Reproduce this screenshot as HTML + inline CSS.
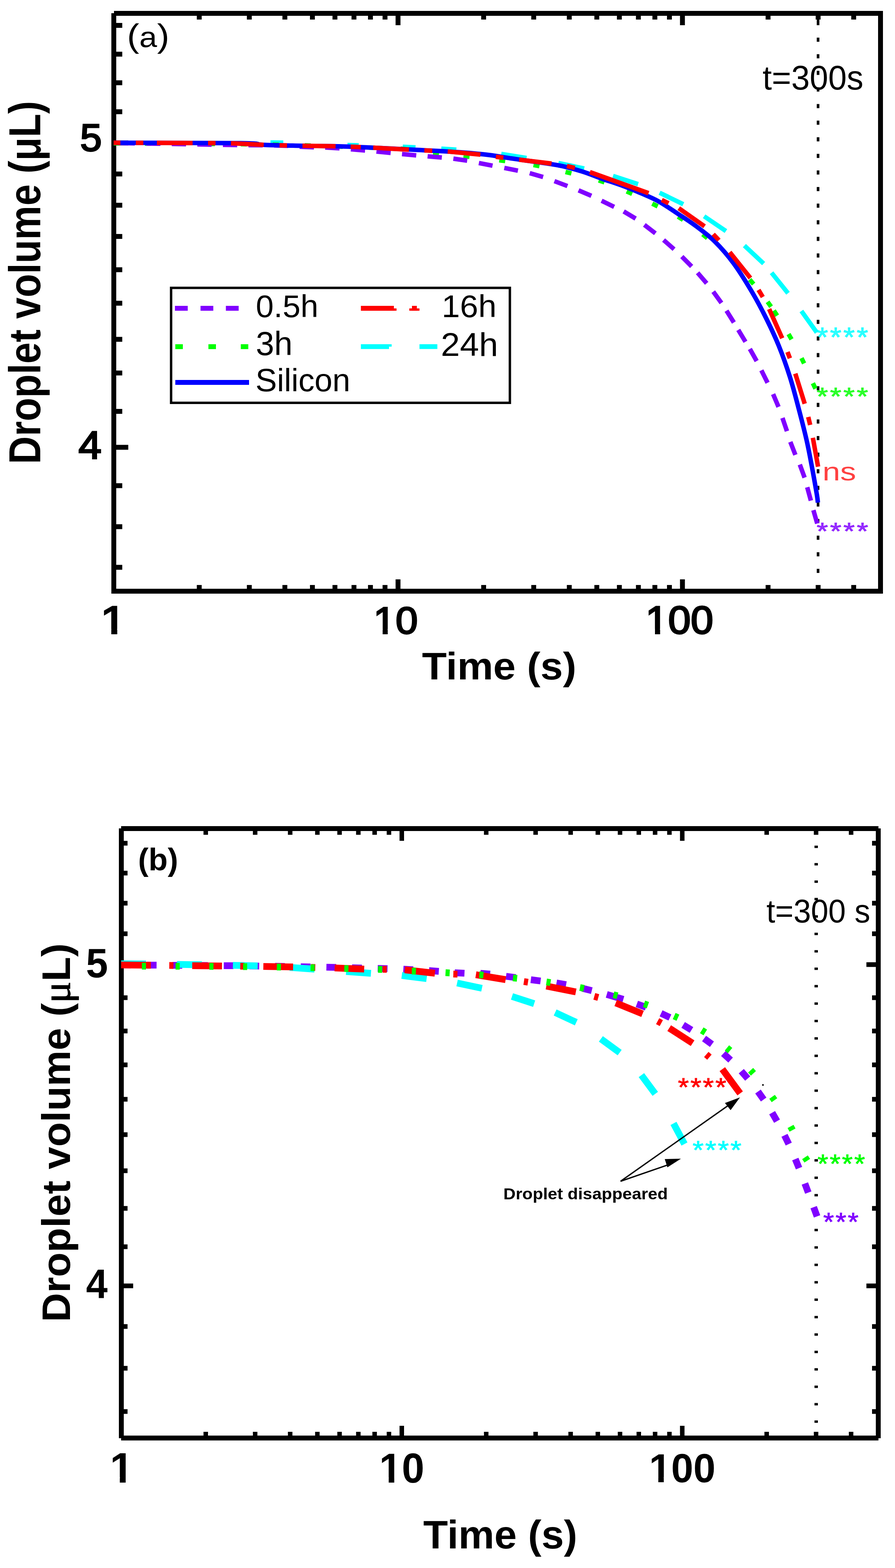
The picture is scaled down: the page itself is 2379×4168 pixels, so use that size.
<!DOCTYPE html>
<html><head><meta charset="utf-8"><style>
html,body{margin:0;padding:0;background:#fff;}
svg{display:block;}
</style></head><body>
<svg width="2379" height="4168" viewBox="0 0 2379 4168">
<rect width="2379" height="4168" fill="#fff"/>
<rect x="303" y="29" width="2044" height="13" fill="#000"/>
<rect x="296" y="35" width="13" height="1543" fill="#000"/>
<rect x="2334" y="29" width="13" height="1549" fill="#000"/>
<rect x="296" y="1565" width="2051" height="13" fill="#000"/>
<rect x="309" y="61" width="16" height="13" fill="#000"/>
<rect x="309" y="137.5" width="16" height="13" fill="#000"/>
<rect x="309" y="213.5" width="16" height="13" fill="#000"/>
<rect x="309" y="290.5" width="16" height="13" fill="#000"/>
<rect x="309" y="373.5" width="32" height="13" fill="#000"/>
<rect x="309" y="456" width="16" height="13" fill="#000"/>
<rect x="309" y="539" width="16" height="13" fill="#000"/>
<rect x="309" y="622" width="16" height="13" fill="#000"/>
<rect x="309" y="710.5" width="16" height="13" fill="#000"/>
<rect x="309" y="799.5" width="16" height="13" fill="#000"/>
<rect x="309" y="895.5" width="16" height="13" fill="#000"/>
<rect x="309" y="985" width="16" height="13" fill="#000"/>
<rect x="309" y="1087" width="16" height="13" fill="#000"/>
<rect x="309" y="1182.5" width="32" height="13" fill="#000"/>
<rect x="309" y="1284.5" width="16" height="13" fill="#000"/>
<rect x="309" y="1393.5" width="16" height="13" fill="#000"/>
<rect x="309" y="1501.5" width="16" height="13" fill="#000"/>
<rect x="523.1" y="1555" width="13" height="10" fill="#000"/>
<rect x="523.1" y="42" width="13" height="10" fill="#000"/>
<rect x="656.2" y="1555" width="13" height="10" fill="#000"/>
<rect x="656.2" y="42" width="13" height="10" fill="#000"/>
<rect x="750.7" y="1555" width="13" height="10" fill="#000"/>
<rect x="750.7" y="42" width="13" height="10" fill="#000"/>
<rect x="823.9" y="1555" width="13" height="10" fill="#000"/>
<rect x="823.9" y="42" width="13" height="10" fill="#000"/>
<rect x="883.8" y="1555" width="13" height="10" fill="#000"/>
<rect x="883.8" y="42" width="13" height="10" fill="#000"/>
<rect x="934.4" y="1555" width="13" height="10" fill="#000"/>
<rect x="934.4" y="42" width="13" height="10" fill="#000"/>
<rect x="978.2" y="1555" width="13" height="10" fill="#000"/>
<rect x="978.2" y="42" width="13" height="10" fill="#000"/>
<rect x="1016.9" y="1555" width="13" height="10" fill="#000"/>
<rect x="1016.9" y="42" width="13" height="10" fill="#000"/>
<rect x="1051.5" y="1540" width="13" height="25" fill="#000"/>
<rect x="1051.5" y="42" width="13" height="25" fill="#000"/>
<rect x="1279.1" y="1555" width="13" height="10" fill="#000"/>
<rect x="1279.1" y="42" width="13" height="10" fill="#000"/>
<rect x="1412.2" y="1555" width="13" height="10" fill="#000"/>
<rect x="1412.2" y="42" width="13" height="10" fill="#000"/>
<rect x="1506.7" y="1555" width="13" height="10" fill="#000"/>
<rect x="1506.7" y="42" width="13" height="10" fill="#000"/>
<rect x="1579.9" y="1555" width="13" height="10" fill="#000"/>
<rect x="1579.9" y="42" width="13" height="10" fill="#000"/>
<rect x="1639.8" y="1555" width="13" height="10" fill="#000"/>
<rect x="1639.8" y="42" width="13" height="10" fill="#000"/>
<rect x="1690.4" y="1555" width="13" height="10" fill="#000"/>
<rect x="1690.4" y="42" width="13" height="10" fill="#000"/>
<rect x="1734.2" y="1555" width="13" height="10" fill="#000"/>
<rect x="1734.2" y="42" width="13" height="10" fill="#000"/>
<rect x="1772.9" y="1555" width="13" height="10" fill="#000"/>
<rect x="1772.9" y="42" width="13" height="10" fill="#000"/>
<rect x="1807.5" y="1540" width="13" height="25" fill="#000"/>
<rect x="1807.5" y="42" width="13" height="25" fill="#000"/>
<rect x="2035.1" y="1555" width="13" height="10" fill="#000"/>
<rect x="2035.1" y="42" width="13" height="10" fill="#000"/>
<rect x="2168.2" y="1555" width="13" height="10" fill="#000"/>
<rect x="2168.2" y="42" width="13" height="10" fill="#000"/>
<rect x="2262.7" y="1555" width="13" height="10" fill="#000"/>
<rect x="2262.7" y="42" width="13" height="10" fill="#000"/>
<rect x="2171" y="100" width="7" height="11" fill="#000"/>
<rect x="2171" y="144.1" width="7" height="11" fill="#000"/>
<rect x="2171" y="188.2" width="7" height="11" fill="#000"/>
<rect x="2171" y="232.4" width="7" height="11" fill="#000"/>
<rect x="2171" y="276.5" width="7" height="11" fill="#000"/>
<rect x="2171" y="320.6" width="7" height="11" fill="#000"/>
<rect x="2171" y="364.8" width="7" height="11" fill="#000"/>
<rect x="2171" y="408.9" width="7" height="11" fill="#000"/>
<rect x="2171" y="453" width="7" height="11" fill="#000"/>
<rect x="2171" y="497.1" width="7" height="11" fill="#000"/>
<rect x="2171" y="541.2" width="7" height="11" fill="#000"/>
<rect x="2171" y="585.4" width="7" height="11" fill="#000"/>
<rect x="2171" y="629.5" width="7" height="11" fill="#000"/>
<rect x="2171" y="673.6" width="7" height="11" fill="#000"/>
<rect x="2171" y="717.8" width="7" height="11" fill="#000"/>
<rect x="2171" y="761.9" width="7" height="11" fill="#000"/>
<rect x="2171" y="806" width="7" height="11" fill="#000"/>
<rect x="2171" y="850.1" width="7" height="11" fill="#000"/>
<rect x="2171" y="894.2" width="7" height="11" fill="#000"/>
<rect x="2171" y="938.4" width="7" height="11" fill="#000"/>
<rect x="2171" y="982.5" width="7" height="11" fill="#000"/>
<rect x="2171" y="1026.6" width="7" height="11" fill="#000"/>
<rect x="2171" y="1070.8" width="7" height="11" fill="#000"/>
<rect x="2171" y="1114.9" width="7" height="11" fill="#000"/>
<rect x="2171" y="1159" width="7" height="11" fill="#000"/>
<rect x="2171" y="1203.1" width="7" height="11" fill="#000"/>
<rect x="2171" y="1247.2" width="7" height="11" fill="#000"/>
<rect x="2171" y="1291.4" width="7" height="11" fill="#000"/>
<rect x="2171" y="1335.5" width="7" height="11" fill="#000"/>
<rect x="2171" y="1379.6" width="7" height="11" fill="#000"/>
<rect x="2171" y="1423.8" width="7" height="11" fill="#000"/>
<rect x="2171" y="1467.9" width="7" height="11" fill="#000"/>
<rect x="2171" y="1512" width="7" height="11" fill="#000"/>
<rect x="2171" y="42" width="7" height="25" fill="#000"/>
<path d="M719.0 378.8L753.0 379.3M923.5 385.5L953.5 386.5M1070.5 390.3L1104.5 391.8M1173.0 395.3L1213.0 397.8M1332.4 409.3L1399.6 419.9M1484.3 433.3L1552.8 447.9M1629.5 467.8L1696.1 489.4M1753.3 512.3L1816.2 542.9M1871.6 574.9L1929.6 614.2M1978.7 652.9L2029.8 700.6M2050.9 724.9L2094.6 779.5M2130.2 826.8L2171.0 883.7" fill="none" stroke="#00ffff" stroke-width="12" stroke-linecap="butt"/>
<path d="M302.0 381.0L316.0 381.1M385.0 381.4L401.0 381.5M470.0 381.9L486.0 382.0M555.0 382.4L571.0 382.5M640.0 383.2L656.0 383.4M725.0 384.5L741.0 384.8M810.0 386.6L826.0 387.1M895.0 389.3L911.0 389.9M980.0 392.3L996.0 392.9M1065.0 395.3L1081.0 396.8M1151.1 407.0L1166.9 408.9M1232.0 415.2L1248.0 416.9M1327.1 426.0L1342.9 428.0M1418.1 438.6L1433.9 441.5M1503.2 457.1L1518.8 460.9M1591.4 479.6L1606.6 484.6M1665.7 508.8L1680.3 515.3M1733.8 541.4L1748.2 548.5M1802.2 575.9L1815.7 584.3M1867.8 622.9L1880.1 633.2M1992.7 743.0L2003.2 755.1M2040.3 802.2L2049.6 815.2M2056.9 825.6L2065.8 839.0M2096.0 888.1L2104.0 901.9M2130.5 951.8L2137.4 966.2M2160.7 1018.7L2167.6 1033.2" fill="none" stroke="#00ff00" stroke-width="12" stroke-linecap="butt"/>
<path d="M320.5 380.3L358.5 381.0M388.5 381.5L426.5 382.1M456.5 382.6L494.5 383.3M524.5 383.8L562.5 384.4M592.5 384.9L630.5 385.4M660.5 385.8L698.5 386.1M728.5 386.5L766.5 387.6M796.5 389.9L834.5 391.5M864.5 392.0L902.5 394.2M932.6 396.7L970.4 400.0M1000.6 402.8L1038.4 406.5M1068.6 409.5L1106.4 412.9M1136.6 415.4L1174.4 418.8M1205.1 421.7L1241.8 427.0M1272.9 433.3L1309.2 440.4M1340.5 446.4L1376.7 453.7M1408.1 460.3L1443.6 470.5M1473.7 481.5L1508.3 494.5M1537.9 505.9L1571.9 520.6M1599.1 533.7L1632.4 549.8M1657.8 562.0L1689.6 581.0M1712.8 597.8L1742.1 620.3M1763.9 638.0L1791.7 662.4M1812.4 682.0L1838.4 708.2M1854.3 725.1L1878.4 753.2M1895.9 775.2L1917.6 805.2M1931.1 825.9L1950.7 857.3M1962.4 876.9L1981.5 908.5M1993.2 927.5L2011.3 959.8M2023.8 984.4L2040.3 1017.5M2055.0 1047.6L2069.4 1081.7M2079.9 1111.0L2091.8 1146.1M2100.8 1174.6L2114.2 1209.1M2126.0 1234.9L2138.7 1269.6M2145.7 1295.1L2155.4 1330.8M2162.1 1356.2L2172.3 1391.7" fill="none" stroke="#8000ff" stroke-width="12" stroke-linecap="butt"/>
<path d="M302 379.5 C358.3 379.7 573.7 379.6 640 380.5 C706.3 381.4 673.3 383.8 700 385 C726.7 386.2 766.7 386.8 800 387.5 C833.3 388.2 866.7 388.1 900 389 C933.3 389.9 966.7 391.5 1000 393 C1033.3 394.5 1062.5 396 1100 398 C1137.5 400 1191.7 402.7 1225 405 C1258.3 407.3 1277.7 409.3 1300 412 C1322.3 414.7 1342.3 418.5 1359 421 C1375.7 423.5 1378.7 423.8 1400 427 C1421.3 430.2 1462.3 435.2 1487 440 C1511.7 444.8 1529.2 450.2 1548 456 C1566.8 461.8 1583 469 1600 475 C1617 481 1633.3 485.8 1650 492 C1666.7 498.2 1683.3 504.8 1700 512 C1716.7 519.2 1733.3 525.8 1750 535 C1766.7 544.2 1783.3 556 1800 567 C1816.7 578 1833.3 588.5 1850 601 C1866.7 613.5 1883.3 625.5 1900 642 C1916.7 658.5 1933.3 677.3 1950 700 C1966.7 722.7 1985.7 753.8 2000 778 C2014.3 802.2 2024.3 821.5 2036 845 C2047.7 868.5 2059.3 892.7 2070 919 C2080.7 945.3 2091 974.5 2100 1003 C2109 1031.5 2116.7 1062.2 2124 1090 C2131.3 1117.8 2138.3 1145 2144 1170 C2149.7 1195 2153.5 1216.2 2158 1240 C2162.5 1263.8 2168.3 1297 2171 1313 C2173.7 1329 2173.5 1332.2 2174 1336" fill="none" stroke="#0000ff" stroke-width="12" stroke-linecap="butt" stroke-linejoin="round"/>
<path d="M302.0 379.5L320.0 379.6M361.0 379.7L381.0 379.7M417.0 379.8L512.0 380.2M553.0 380.3L573.0 380.4M614.0 380.7L701.0 385.0M743.0 386.3L763.0 386.7M804.0 387.6L892.0 388.8M932.0 390.0L959.0 391.1M992.0 392.6L1087.0 397.8M1128.0 399.8L1149.0 400.7M1190.0 402.6L1277.0 411.0M1318.0 416.7L1338.0 419.3M1380.0 424.5L1466.0 434.7M1507.0 441.4L1528.0 446.3M1568.0 457.5L1724.0 513.5M1759.1 531.5L1777.0 540.4M1804.2 553.4L1872.8 601.7M1895.9 622.5L1911.0 638.5M1939.7 670.3L1994.6 739.0M2016.2 770.7L2027.6 789.5M2044.5 821.5L2079.2 899.1M2093.3 935.6L2099.6 952.4M2114.0 993.1L2139.0 1073.3M2148.4 1108.3L2153.5 1129.7M2160.7 1163.7L2174.5 1240.5" fill="none" stroke="#ff0000" stroke-width="12" stroke-linecap="butt"/>
<rect x="454.8" y="765.2" width="900.5" height="305.6" fill="none" stroke="#000" stroke-width="6.4"/>
<rect x="465" y="813" width="34" height="13" fill="#8000ff"/>
<rect x="533" y="813" width="34" height="13" fill="#8000ff"/>
<rect x="600.4" y="813" width="34" height="13" fill="#8000ff"/>
<rect x="466" y="915" width="20" height="13" fill="#00ff00"/>
<rect x="554" y="915" width="20" height="13" fill="#00ff00"/>
<rect x="640" y="915" width="20" height="13" fill="#00ff00"/>
<rect x="466" y="1010" width="196" height="13" fill="#0000ff"/>
<polygon points="959.3,813 1047,813 1047,819.7 1054,819.7 1054,826 959.3,826" fill="#ff0000"/>
<polygon points="1095,813 1108,813 1108,819.7 1115,819.7 1115,826 1088,826 1088,819.7 1095,819.7" fill="#ff0000"/>
<polygon points="959.3,915 1041,915 1041,921.6 1034,921.6 1034,927.7 959.3,927.7" fill="#00ffff"/>
<rect x="1115" y="915" width="47.5" height="12.7" fill="#00ffff"/>
<rect x="322" y="2196" width="2013" height="13" fill="#000"/>
<rect x="316" y="2202" width="13" height="1621" fill="#000"/>
<rect x="2328" y="2202" width="13" height="1621" fill="#000"/>
<rect x="322" y="3816" width="2013" height="13" fill="#000"/>
<rect x="329" y="2235.2" width="10" height="12.5" fill="#000"/>
<rect x="2318" y="2235.2" width="10" height="12.5" fill="#000"/>
<rect x="329" y="2314.6" width="10" height="12.5" fill="#000"/>
<rect x="2318" y="2314.6" width="10" height="12.5" fill="#000"/>
<rect x="329" y="2394.6" width="10" height="12.5" fill="#000"/>
<rect x="2318" y="2394.6" width="10" height="12.5" fill="#000"/>
<rect x="329" y="2475.8" width="10" height="12.5" fill="#000"/>
<rect x="2318" y="2475.8" width="10" height="12.5" fill="#000"/>
<rect x="329" y="2557.8" width="25" height="12.5" fill="#000"/>
<rect x="2303" y="2557.8" width="25" height="12.5" fill="#000"/>
<rect x="329" y="2645.8" width="10" height="12.5" fill="#000"/>
<rect x="2318" y="2645.8" width="10" height="12.5" fill="#000"/>
<rect x="329" y="2734.3" width="10" height="12.5" fill="#000"/>
<rect x="2318" y="2734.3" width="10" height="12.5" fill="#000"/>
<rect x="329" y="2824.3" width="10" height="12.5" fill="#000"/>
<rect x="2318" y="2824.3" width="10" height="12.5" fill="#000"/>
<rect x="329" y="2915.8" width="10" height="12.5" fill="#000"/>
<rect x="2318" y="2915.8" width="10" height="12.5" fill="#000"/>
<rect x="329" y="3009.8" width="10" height="12.5" fill="#000"/>
<rect x="2318" y="3009.8" width="10" height="12.5" fill="#000"/>
<rect x="329" y="3105.8" width="10" height="12.5" fill="#000"/>
<rect x="2318" y="3105.8" width="10" height="12.5" fill="#000"/>
<rect x="329" y="3205.8" width="10" height="12.5" fill="#000"/>
<rect x="2318" y="3205.8" width="10" height="12.5" fill="#000"/>
<rect x="329" y="3307.8" width="10" height="12.5" fill="#000"/>
<rect x="2318" y="3307.8" width="10" height="12.5" fill="#000"/>
<rect x="329" y="3411.8" width="25" height="12.5" fill="#000"/>
<rect x="2303" y="3411.8" width="25" height="12.5" fill="#000"/>
<rect x="329" y="3519.8" width="10" height="12.5" fill="#000"/>
<rect x="2318" y="3519.8" width="10" height="12.5" fill="#000"/>
<rect x="329" y="3630.8" width="10" height="12.5" fill="#000"/>
<rect x="2318" y="3630.8" width="10" height="12.5" fill="#000"/>
<rect x="329" y="3745.8" width="10" height="12.5" fill="#000"/>
<rect x="2318" y="3745.8" width="10" height="12.5" fill="#000"/>
<rect x="540.9" y="3806" width="12" height="10" fill="#000"/>
<rect x="540.9" y="2209" width="12" height="10" fill="#000"/>
<rect x="672.2" y="3806" width="12" height="10" fill="#000"/>
<rect x="672.2" y="2209" width="12" height="10" fill="#000"/>
<rect x="765.3" y="3806" width="12" height="10" fill="#000"/>
<rect x="765.3" y="2209" width="12" height="10" fill="#000"/>
<rect x="837.6" y="3806" width="12" height="10" fill="#000"/>
<rect x="837.6" y="2209" width="12" height="10" fill="#000"/>
<rect x="896.6" y="3806" width="12" height="10" fill="#000"/>
<rect x="896.6" y="2209" width="12" height="10" fill="#000"/>
<rect x="946.5" y="3806" width="12" height="10" fill="#000"/>
<rect x="946.5" y="2209" width="12" height="10" fill="#000"/>
<rect x="989.8" y="3806" width="12" height="10" fill="#000"/>
<rect x="989.8" y="2209" width="12" height="10" fill="#000"/>
<rect x="1027.9" y="3806" width="12" height="10" fill="#000"/>
<rect x="1027.9" y="2209" width="12" height="10" fill="#000"/>
<rect x="1062" y="3790" width="12" height="26" fill="#000"/>
<rect x="1062" y="2209" width="12" height="26" fill="#000"/>
<rect x="1286.4" y="3806" width="12" height="10" fill="#000"/>
<rect x="1286.4" y="2209" width="12" height="10" fill="#000"/>
<rect x="1417.7" y="3806" width="12" height="10" fill="#000"/>
<rect x="1417.7" y="2209" width="12" height="10" fill="#000"/>
<rect x="1510.8" y="3806" width="12" height="10" fill="#000"/>
<rect x="1510.8" y="2209" width="12" height="10" fill="#000"/>
<rect x="1583.1" y="3806" width="12" height="10" fill="#000"/>
<rect x="1583.1" y="2209" width="12" height="10" fill="#000"/>
<rect x="1642.1" y="3806" width="12" height="10" fill="#000"/>
<rect x="1642.1" y="2209" width="12" height="10" fill="#000"/>
<rect x="1692" y="3806" width="12" height="10" fill="#000"/>
<rect x="1692" y="2209" width="12" height="10" fill="#000"/>
<rect x="1735.3" y="3806" width="12" height="10" fill="#000"/>
<rect x="1735.3" y="2209" width="12" height="10" fill="#000"/>
<rect x="1773.4" y="3806" width="12" height="10" fill="#000"/>
<rect x="1773.4" y="2209" width="12" height="10" fill="#000"/>
<rect x="1807.5" y="3790" width="12" height="26" fill="#000"/>
<rect x="1807.5" y="2209" width="12" height="26" fill="#000"/>
<rect x="2031.9" y="3806" width="12" height="10" fill="#000"/>
<rect x="2031.9" y="2209" width="12" height="10" fill="#000"/>
<rect x="2163.2" y="3806" width="12" height="10" fill="#000"/>
<rect x="2163.2" y="2209" width="12" height="10" fill="#000"/>
<rect x="2256.3" y="3806" width="12" height="10" fill="#000"/>
<rect x="2256.3" y="2209" width="12" height="10" fill="#000"/>
<rect x="2165" y="2247.8" width="9" height="6.4" fill="#000"/>
<rect x="2165" y="2294.1" width="9" height="6.4" fill="#000"/>
<rect x="2165" y="2340.4" width="9" height="6.4" fill="#000"/>
<rect x="2165" y="2386.7" width="9" height="6.4" fill="#000"/>
<rect x="2165" y="2433" width="9" height="6.4" fill="#000"/>
<rect x="2165" y="2479.3" width="9" height="6.4" fill="#000"/>
<rect x="2165" y="2525.6" width="9" height="6.4" fill="#000"/>
<rect x="2165" y="2571.9" width="9" height="6.4" fill="#000"/>
<rect x="2165" y="2618.2" width="9" height="6.4" fill="#000"/>
<rect x="2165" y="2664.5" width="9" height="6.4" fill="#000"/>
<rect x="2165" y="2710.8" width="9" height="6.4" fill="#000"/>
<rect x="2165" y="2757.1" width="9" height="6.4" fill="#000"/>
<rect x="2165" y="2803.4" width="9" height="6.4" fill="#000"/>
<rect x="2165" y="2849.7" width="9" height="6.4" fill="#000"/>
<rect x="2165" y="2896" width="9" height="6.4" fill="#000"/>
<rect x="2165" y="2942.3" width="9" height="6.4" fill="#000"/>
<rect x="2165" y="2988.6" width="9" height="6.4" fill="#000"/>
<rect x="2165" y="3034.9" width="9" height="6.4" fill="#000"/>
<rect x="2165" y="3081.2" width="9" height="6.4" fill="#000"/>
<rect x="2165" y="3127.5" width="9" height="6.4" fill="#000"/>
<rect x="2165" y="3173.8" width="9" height="6.4" fill="#000"/>
<rect x="2165" y="3220.1" width="9" height="6.4" fill="#000"/>
<rect x="2165" y="3266.4" width="9" height="6.4" fill="#000"/>
<rect x="2165" y="3312.7" width="9" height="6.4" fill="#000"/>
<rect x="2165" y="3359" width="9" height="6.4" fill="#000"/>
<rect x="2165" y="3405.3" width="9" height="6.4" fill="#000"/>
<rect x="2165" y="3451.6" width="9" height="6.4" fill="#000"/>
<rect x="2165" y="3497.9" width="9" height="6.4" fill="#000"/>
<rect x="2165" y="3544.2" width="9" height="6.4" fill="#000"/>
<rect x="2165" y="3590.5" width="9" height="6.4" fill="#000"/>
<rect x="2165" y="3636.8" width="9" height="6.4" fill="#000"/>
<rect x="2165" y="3683.1" width="9" height="6.4" fill="#000"/>
<rect x="2165" y="3729.4" width="9" height="6.4" fill="#000"/>
<rect x="2165" y="3775.7" width="9" height="6.4" fill="#000"/>
<path d="M322.0 2565.0L348.0 2565.2M390.2 2565.4L416.2 2565.6M458.4 2565.9L484.4 2566.0M526.6 2566.3L552.6 2566.5M594.8 2566.9L620.8 2567.1M663.0 2567.5L689.0 2567.9M731.2 2568.5L757.2 2568.9M799.4 2569.7L825.4 2570.2M867.6 2571.1L893.6 2571.6M935.8 2572.6L961.8 2573.2M1004.0 2574.2L1030.0 2574.8M1072.2 2576.3L1098.2 2577.7M1140.4 2580.1L1166.4 2582.0M1208.6 2585.7L1234.6 2586.9M1277.0 2587.3L1302.9 2589.2M1345.1 2595.2L1370.9 2598.7M1411.1 2604.3L1436.9 2607.6M1479.2 2612.9L1504.8 2617.4M1547.7 2627.0L1573.0 2633.2M1612.8 2643.4L1656.9 2656.4M1692.8 2668.6L1717.2 2677.5M1757.2 2693.6L1780.7 2704.7M1815.9 2724.3L1838.0 2737.9M1871.5 2760.4L1892.4 2775.8M1922.8 2800.3L1942.0 2817.9M1970.4 2847.3L1987.5 2866.9M2014.8 2901.5L2029.9 2922.7M2052.4 2957.8L2065.4 2980.3M2085.3 3017.8L2096.6 3041.2M2114.0 3081.0L2123.9 3105.1M2139.4 3145.8L2148.5 3170.2M2162.8 3208.9L2171.8 3233.3" fill="none" stroke="#8000ff" stroke-width="18" stroke-linecap="butt"/>
<path d="M322.0 2562.0L388.0 2562.6M470.5 2563.6L536.5 2564.6M619.0 2566.0L685.0 2567.5M770.0 2571.6L836.0 2576.3M920.0 2582.6L986.0 2587.2M1068.0 2593.0L1134.0 2601.4M1215.0 2613.0L1281.0 2627.0M1360.9 2648.7L1419.8 2667.9M1475.6 2691.4L1531.8 2717.5M1597.2 2761.5L1647.1 2798.1M1704.9 2857.9L1741.8 2907.7M1790.2 2986.3L1819.4 3041.0" fill="none" stroke="#00ffff" stroke-width="18" stroke-linecap="butt"/>
<path d="M322.0 2565.0L401.0 2565.8M450.0 2566.3L461.0 2566.4M511.0 2566.9L590.0 2567.7M638.7 2568.2L649.7 2568.4M700.0 2569.0L779.0 2570.3M827.0 2571.4L838.0 2571.7M889.5 2573.0L968.0 2576.0M1017.0 2576.6L1028.0 2576.7M1076.0 2578.0L1156.0 2587.0M1205.0 2589.3L1216.0 2589.6M1265.0 2591.0L1344.0 2604.0M1392.6 2609.2L1403.4 2610.9M1452.2 2621.2L1530.7 2636.7M1579.7 2648.5L1590.3 2651.5M1636.7 2665.9L1708.0 2695.0M1748.1 2714.4L1757.8 2719.6M1778.8 2732.9L1841.0 2773.0M1877.4 2802.9L1885.7 2810.1M1920.0 2842.0L1967.4 2906.4" fill="none" stroke="#ff0000" stroke-width="18" stroke-linecap="butt"/>
<path d="M377.0 2568.2L388.0 2568.2M466.7 2568.5L477.7 2568.5M556.4 2568.8L567.4 2568.9M646.1 2569.4L657.1 2569.5M735.8 2570.5L746.8 2570.7M825.5 2572.2L836.5 2572.5M915.2 2574.4L926.2 2574.7M1004.9 2576.8L1015.9 2577.1M1094.6 2581.2L1105.6 2581.7M1184.3 2585.6L1195.3 2586.2M1274.0 2591.0L1285.0 2591.9M1363.5 2599.4L1374.5 2600.6M1452.6 2610.2L1463.4 2611.8M1541.6 2625.0L1552.4 2627.1M1630.7 2644.1L1641.3 2646.9M1711.8 2668.2L1722.2 2671.9M1792.0 2700.7L1802.0 2705.3M1865.3 2738.6L1874.7 2744.4M1932.3 2785.5L1940.7 2792.5M1995.3 2844.9L2002.7 2853.1M2052.3 2915.5L2058.6 2924.5M2101.4 2994.2L2106.6 3003.9M2139.7 3076.2L2145.8 3085.4" fill="none" stroke="#00ff00" stroke-width="18" stroke-linecap="butt"/>
<line x1="1649.5" y1="3140" x2="1945" y2="2932" stroke="#000" stroke-width="3.5"/>
<polygon points="1967,2917 1927,2932 1942,2951" fill="#000"/>
<line x1="1649.5" y1="3140" x2="1780" y2="3095" stroke="#000" stroke-width="3.5"/>
<polygon points="1810,3080 1767,3081 1774,3103" fill="#000"/>
<rect x="2026" y="2882" width="4" height="4" fill="#000"/>
<g transform="matrix(0.96933 0 0 0.95681 20.951 35.693)"><text x="680" y="844" font-family="Liberation Sans, Arial, sans-serif" font-size="88" font-weight="normal" fill="#000">0.5h</text></g>
<g transform="matrix(0.99796 0 0 1.00923 1.392 -10.249)"><text x="680" y="946" font-family="Liberation Sans, Arial, sans-serif" font-size="88" font-weight="normal" fill="#000">3h</text></g>
<g transform="matrix(0.97200 0 0 0.96899 18.152 31.308)"><text x="680" y="1041" font-family="Liberation Sans, Arial, sans-serif" font-size="88" font-weight="normal" fill="#000">Silicon</text></g>
<g transform="matrix(0.99270 0 0 0.95681 8.611 35.693)"><text x="1174" y="844" font-family="Liberation Sans, Arial, sans-serif" font-size="88" font-weight="normal" fill="#000">16h</text></g>
<g transform="matrix(1.03628 0 0 0.98626 -44.742 13.106)"><text x="1174" y="946" font-family="Liberation Sans, Arial, sans-serif" font-size="88" font-weight="normal" fill="#000">24h</text></g>
<g transform="matrix(1.11793 0 0 0.99187 -39.190 0.980)"><text x="337" y="125" font-family="Liberation Sans, Arial, sans-serif" font-size="88" font-weight="normal" fill="#000">(<tspan font-size="76">a</tspan>)</text></g>
<g transform="matrix(1.00458 0 0 1.02533 -6.283 -6.602)"><text x="2024" y="239" font-family="Liberation Sans, Arial, sans-serif" font-size="88" font-weight="normal" fill="#000">t=300s</text></g>
<clipPath id="cp_a_x1"><path clip-rule="evenodd" d="M-224 886H1276V2186H-224Z M279.07 1673.58H300.66V1693.00H279.07Z M314.02 1673.58H334.78V1693.00H314.02Z"/></clipPath><g transform="matrix(1.17777 0 0 0.98798 -58.256 18.363)"><text x="276" y="1686" font-family="Liberation Sans, Arial, sans-serif" font-size="106" font-weight="normal" fill="#000" clip-path="url(#cp_a_x1)" stroke="#000" stroke-width="4">1</text></g>
<clipPath id="cp_a_x10"><path clip-rule="evenodd" d="M500 886H2000V2186H500Z M1003.07 1673.58H1024.66V1693.00H1003.07Z M1038.02 1673.58H1058.78V1693.00H1038.02Z"/></clipPath><g transform="matrix(1.00404 0 0 0.95293 -11.655 77.085)"><text x="1000" y="1686" font-family="Liberation Sans, Arial, sans-serif" font-size="106" font-weight="normal" fill="#000" clip-path="url(#cp_a_x10)" stroke="#000" stroke-width="4">10</text></g>
<clipPath id="cp_a_x100"><path clip-rule="evenodd" d="M1224 886H2724V2186H1224Z M1727.07 1673.58H1748.66V1693.00H1727.07Z M1762.02 1673.58H1782.78V1693.00H1762.02Z"/></clipPath><g transform="matrix(1.01811 0 0 0.98129 -39.338 29.103)"><text x="1724" y="1686" font-family="Liberation Sans, Arial, sans-serif" font-size="106" font-weight="normal" fill="#000" clip-path="url(#cp_a_x100)" stroke="#000" stroke-width="4">100</text></g>
<g transform="matrix(1.01406 0 0 0.97033 -15.888 52.269)"><text x="1122" y="1807" font-family="Liberation Sans, Arial, sans-serif" font-size="106" font-weight="bold" fill="#000">Time (s)</text></g>
<g transform="matrix(0.97935 0 0 0.96699 3.446 10.538)"><text x="214" y="404" font-family="Liberation Sans, Arial, sans-serif" font-size="106" font-weight="normal" fill="#000" stroke="#000" stroke-width="4">5</text></g>
<g transform="matrix(1.04074 0 0 0.97059 -7.934 35.025)"><text x="208" y="1220" font-family="Liberation Sans, Arial, sans-serif" font-size="106" font-weight="normal" fill="#000" stroke="#000" stroke-width="4">4</text></g>
<g transform="matrix(1.06731 0 0 0.91224 -5.683 114.069)"><text transform="translate(106,1227) rotate(-90)" font-family="Liberation Sans, Arial, sans-serif" font-size="112" font-weight="bold" fill="#000">Droplet volume (μL)</text></g>
<g transform="matrix(1.06459 0 0 0.99604 -139.528 3.691)"><text x="2170" y="921" font-family="Liberation Sans, Arial, sans-serif" font-size="73" font-weight="normal" fill="#00ffff" letter-spacing="5" fill-opacity="0.8" stroke="#00ffff" stroke-opacity="0.8" stroke-width="1.5">****</text></g>
<g transform="matrix(1.06287 0 0 0.88264 -135.600 120.883)"><text x="2170" y="1082" font-family="Liberation Sans, Arial, sans-serif" font-size="73" font-weight="normal" fill="#00ff00" letter-spacing="5" fill-opacity="0.8" stroke="#00ff00" stroke-opacity="0.8" stroke-width="1.5">****</text></g>
<g transform="matrix(1.06389 0 0 0.87060 -137.838 180.464)"><text x="2170" y="1439" font-family="Liberation Sans, Arial, sans-serif" font-size="73" font-weight="normal" fill="#8000ff" letter-spacing="5" fill-opacity="0.8" stroke="#8000ff" stroke-opacity="0.8" stroke-width="1.5">****</text></g>
<g transform="matrix(1.17598 0 0 0.96347 -389.204 46.190)"><text x="2190" y="1278" font-family="Liberation Sans, Arial, sans-serif" font-size="72" font-weight="normal" fill="#ff0000" fill-opacity="0.75">ns</text></g>
<g transform="matrix(1.00551 0 0 0.99719 -4.982 4.627)"><text x="370" y="2316" font-family="Liberation Sans, Arial, sans-serif" font-size="83" font-weight="bold" fill="#000">(b)</text></g>
<g transform="matrix(1.01681 0 0 1.05530 -32.947 -136.192)"><text x="2036" y="2453" font-family="Liberation Sans, Arial, sans-serif" font-size="82" font-weight="normal" fill="#000">t=300 s</text></g>
<clipPath id="cp_b_x1"><path clip-rule="evenodd" d="M-200 3141H1300V4441H-200Z M303.80 3927.48H325.21V3946.00H303.80Z M340.03 3927.48H360.06V3946.00H340.03Z"/></clipPath><g transform="matrix(1.04930 0 0 1.05405 -22.762 -213.227)"><text x="300" y="3941" font-family="Liberation Sans, Arial, sans-serif" font-size="108" font-weight="bold" fill="#000" clip-path="url(#cp_b_x1)">1</text></g>
<clipPath id="cp_b_x10"><path clip-rule="evenodd" d="M516 3141H2016V4441H516Z M1019.80 3927.48H1041.21V3946.00H1019.80Z M1056.03 3927.48H1076.06V3946.00H1056.03Z"/></clipPath><g transform="matrix(0.99752 0 0 1.02694 -5.378 -106.183)"><text x="1016" y="3941" font-family="Liberation Sans, Arial, sans-serif" font-size="108" font-weight="bold" fill="#000" clip-path="url(#cp_b_x10)">10</text></g>
<clipPath id="cp_b_x100"><path clip-rule="evenodd" d="M1232 3141H2732V4441H1232Z M1735.80 3927.48H1757.21V3946.00H1735.80Z M1772.03 3927.48H1792.06V3946.00H1772.03Z"/></clipPath><g transform="matrix(0.98053 0 0 1.00152 26.865 -6.880)"><text x="1732" y="3941" font-family="Liberation Sans, Arial, sans-serif" font-size="108" font-weight="bold" fill="#000" clip-path="url(#cp_b_x100)">100</text></g>
<g transform="matrix(0.99362 0 0 0.97206 7.279 113.728)"><text x="1125" y="4117" font-family="Liberation Sans, Arial, sans-serif" font-size="108" font-weight="bold" fill="#000">Time (s)</text></g>
<g transform="matrix(0.97440 0 0 1.00998 2.398 -25.841)"><text x="232" y="2598" font-family="Liberation Sans, Arial, sans-serif" font-size="108" font-weight="bold" fill="#000">5</text></g>
<g transform="matrix(0.95438 0 0 1.02185 9.229 -76.438)"><text x="230" y="3451" font-family="Liberation Sans, Arial, sans-serif" font-size="108" font-weight="bold" fill="#000">4</text></g>
<g transform="matrix(0.99020 0 0 1.00414 1.069 -8.380)"><text transform="translate(187,3508) rotate(-90)" font-family="Liberation Sans, Arial, sans-serif" font-size="107" font-weight="bold" fill="#000">Droplet volume (<tspan font-family="Liberation Serif, serif" font-weight="normal" stroke="#000" stroke-width="1.5">μ</tspan>L)</text></g>
<g transform="matrix(0.99634 0 0 0.91681 8.585 235.450)"><text x="1800" y="2920" font-family="Liberation Sans, Arial, sans-serif" font-size="75" font-weight="normal" fill="#ff0000" letter-spacing="4.1" stroke="#ff0000" stroke-width="1.3">****</text></g>
<g transform="matrix(1.00694 0 0 0.91642 -11.784 248.506)"><text x="1840" y="3090" font-family="Liberation Sans, Arial, sans-serif" font-size="75" font-weight="normal" fill="#00ffff" letter-spacing="4.1" stroke="#00ffff" stroke-width="1.3">****</text></g>
<g transform="matrix(0.97783 0 0 0.92972 49.160 212.199)"><text x="2172" y="3125" font-family="Liberation Sans, Arial, sans-serif" font-size="75" font-weight="normal" fill="#00ff00" letter-spacing="4.1" stroke="#00ff00" stroke-width="1.3">****</text></g>
<g transform="matrix(0.97776 0 0 0.90290 49.994 309.198)"><text x="2187" y="3280" font-family="Liberation Sans, Arial, sans-serif" font-size="75" font-weight="normal" fill="#8000ff" letter-spacing="4.1" stroke="#8000ff" stroke-width="1.3">***</text></g>
<g transform="matrix(1.00444 0 0 0.96187 -7.862 121.303)"><text x="1340" y="3188" font-family="Liberation Sans, Arial, sans-serif" font-size="45" font-weight="bold" fill="#000">Droplet disappeared</text></g>
</svg>
</body></html>
